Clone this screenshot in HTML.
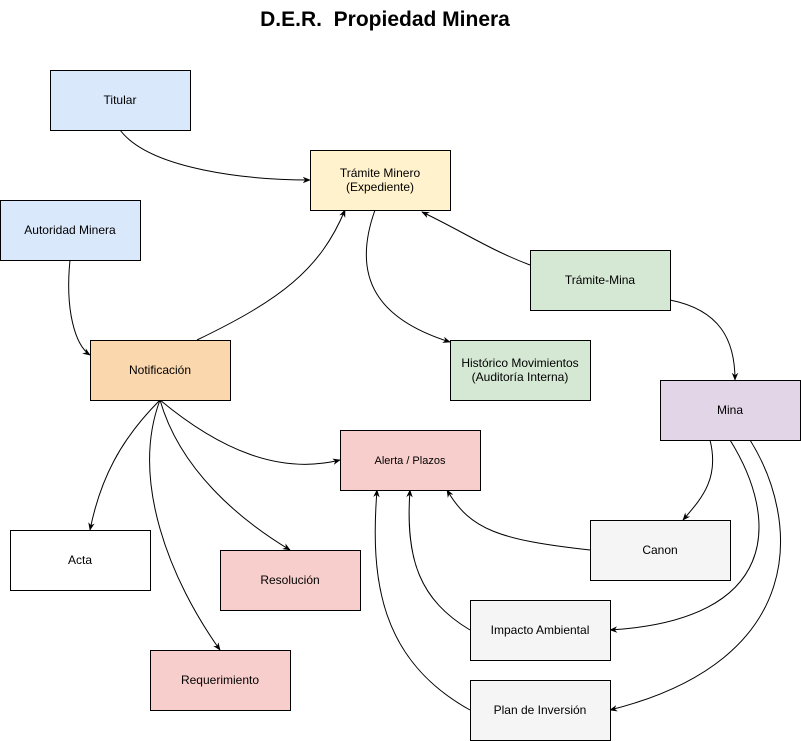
<!DOCTYPE html>
<html><head><meta charset="utf-8"><style>
html,body{margin:0;padding:0;background:#fff}
svg{display:block}
text{font-family:"Liberation Sans",sans-serif}
</style></head><body>
<svg width="801" height="741" viewBox="0 0 801 741" xmlns="http://www.w3.org/2000/svg">
<defs>
<marker id="a" viewBox="0 0 10 10" refX="9" refY="5" markerWidth="8" markerHeight="8" orient="auto" markerUnits="userSpaceOnUse">
<path d="M0,1 L10,5 L0,9 L3,5 Z" fill="#000"/>
</marker>
</defs>
<text x="385" y="26" text-anchor="middle" font-size="21" font-weight="bold" style="white-space:pre" xml:space="preserve">D.E.R.  Propiedad Minera</text>
<g stroke="#000" stroke-width="1" fill="none" marker-end="url(#a)">
<path d="M120,130 C150,170 250,180 310,180"/>
<path d="M375,210 C350,280 380,320 450,342"/>
<path d="M530,265 C490,250 460,230 422,212"/>
<path d="M670,300 C720,310 735,340 735,380"/>
<path d="M70,260 C65,310 75,345 90,355"/>
<path d="M197,340 C280,300 320,270 345,210"/>
<path d="M160,400 C120,440 100,480 90,530"/>
<path d="M160,400 C220,450 280,475 340,460"/>
<path d="M160,400 C180,470 240,520 290,550"/>
<path d="M160,400 C130,480 170,580 220,650"/>
<path d="M710,440 C720,480 700,500 683,520"/>
<path d="M730,440 C780,520 780,620 610,630"/>
<path d="M750,440 C800,520 810,660 610,710"/>
<path d="M590,550 C500,540 470,530 447,490"/>
<path d="M470,630 C420,600 405,560 410,490"/>
<path d="M470,710 C380,660 370,580 377,490"/>
</g>
<g stroke="#000" stroke-width="1">
<rect x="50.5" y="70.5" width="140" height="60" fill="#dae8fc"/>
<rect x="310.5" y="150.5" width="140" height="60" fill="#fff2cc"/>
<rect x="0.5" y="200.5" width="140" height="60" fill="#dae8fc"/>
<rect x="530.5" y="250.5" width="140" height="60" fill="#d5e8d4"/>
<rect x="90.5" y="340.5" width="140" height="60" fill="#fad7ac"/>
<rect x="450.5" y="340.5" width="140" height="60" fill="#d5e8d4"/>
<rect x="660.5" y="380.5" width="140" height="60" fill="#e1d5e7"/>
<rect x="340.5" y="430.5" width="140" height="60" fill="#f8cecc"/>
<rect x="10.5" y="530.5" width="140" height="60" fill="#ffffff"/>
<rect x="220.5" y="550.5" width="140" height="60" fill="#f8cecc"/>
<rect x="590.5" y="520.5" width="140" height="60" fill="#f5f5f5"/>
<rect x="470.5" y="600.5" width="140" height="60" fill="#f5f5f5"/>
<rect x="150.5" y="650.5" width="140" height="60" fill="#f8cecc"/>
<rect x="470.5" y="680.5" width="140" height="60" fill="#f5f5f5"/>
</g>
<g font-size="12" text-anchor="middle" fill="#000">
<text x="120" y="104">Titular</text>
<text x="380" y="177">Trámite Minero</text>
<text x="380" y="191">(Expediente)</text>
<text x="70" y="234">Autoridad Minera</text>
<text x="600" y="284">Trámite-Mina</text>
<text x="160" y="374">Notificación</text>
<text x="520" y="367">Histórico Movimientos</text>
<text x="520" y="381">(Auditoría Interna)</text>
<text x="730" y="414">Mina</text>
<text x="410" y="464" font-size="11">Alerta / Plazos</text>
<text x="80" y="564">Acta</text>
<text x="290" y="584">Resolución</text>
<text x="660" y="554">Canon</text>
<text x="540" y="634">Impacto Ambiental</text>
<text x="220" y="684">Requerimiento</text>
<text x="540" y="714">Plan de Inversión</text>
</g>
</svg>
</body></html>
